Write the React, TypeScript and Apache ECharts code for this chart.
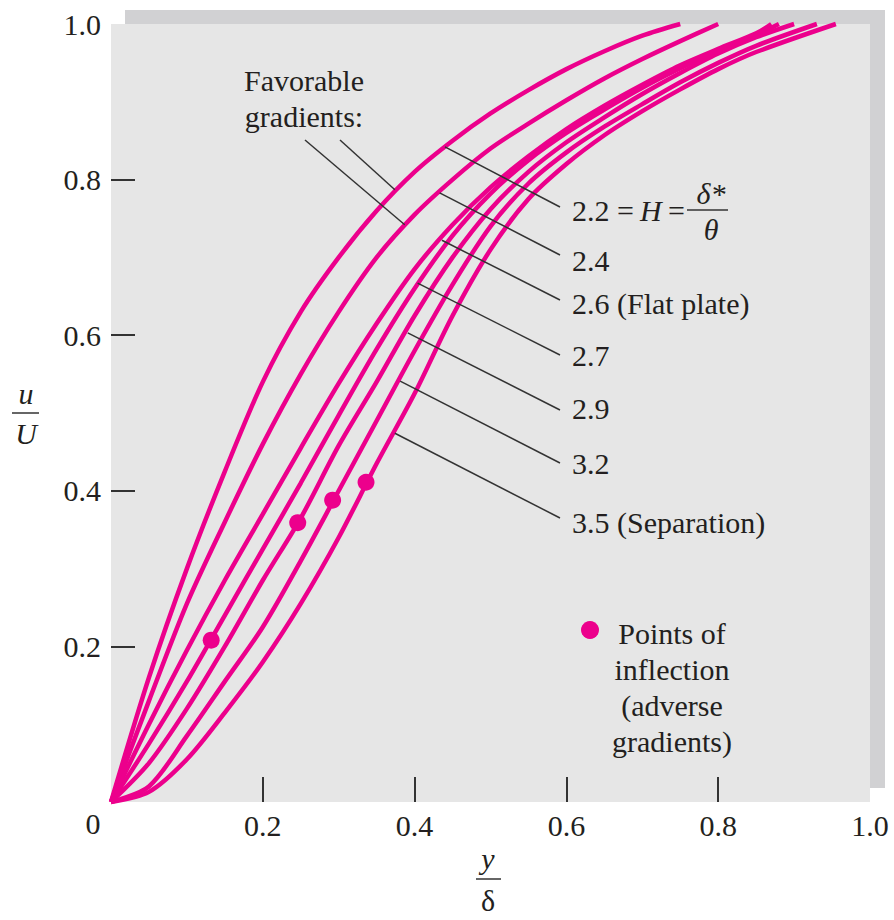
import React, { useEffect, useRef } from "react";
import * as echarts from "echarts";

// y/δ levels at which each profile's u/U value is read
const X_LEVELS = [0, 0.05, 0.1, 0.15, 0.2, 0.25, 0.3, 0.35, 0.4, 0.45, 0.5, 0.55, 0.6, 0.65, 0.7, 0.75, 0.8, 0.85];

// u/U values for each shape factor H; null once u/U = 1 is reached
const U_22 = [0, 0.16, 0.3, 0.425, 0.54, 0.63, 0.7, 0.76, 0.81, 0.85, 0.885, 0.915, 0.942, 0.965, 0.985, 1.0, null, null];
const U_24 = [0, 0.13, 0.255, 0.36, 0.46, 0.55, 0.63, 0.7, 0.755, 0.8, 0.84, 0.872, 0.902, 0.93, 0.955, 0.978, 1.0, null];
const U_26 = [0, 0.1, 0.195, 0.285, 0.37, 0.455, 0.538, 0.615, 0.685, 0.742, 0.79, 0.83, 0.865, 0.895, 0.922, 0.947, 0.968, 0.988];
const U_27 = [0, 0.075, 0.155, 0.24, 0.325, 0.41, 0.497, 0.582, 0.66, 0.728, 0.782, 0.825, 0.86, 0.89, 0.918, 0.943, 0.966, 0.986];
const U_29 = [0, 0.05, 0.12, 0.2, 0.285, 0.365, 0.458, 0.54, 0.625, 0.7, 0.762, 0.81, 0.848, 0.88, 0.91, 0.937, 0.962, 0.983];
const U_32 = [0, 0.02, 0.085, 0.155, 0.225, 0.31, 0.4, 0.49, 0.58, 0.665, 0.74, 0.795, 0.835, 0.868, 0.897, 0.925, 0.95, 0.972];
const U_35 = [0, 0.013, 0.055, 0.115, 0.18, 0.255, 0.34, 0.435, 0.525, 0.625, 0.71, 0.775, 0.82, 0.857, 0.888, 0.916, 0.942, 0.964];
// y/δ where each profile reaches u/U = 1
const END_X = [0.75, 0.8, 0.87, 0.88, 0.9, 0.93, 0.955];

const PROFILES = [U_22, U_24, U_26, U_27, U_29, U_32, U_35];

// Labels and where their leader lines touch the curves (y/δ, u/U)
const PROFILE_LABELS = ["2.2", "2.4", "2.6 (Flat plate)", "2.7", "2.9", "3.2", "3.5 (Separation)"];
const LEADER_ANCHORS = [
  [0.44, 0.842],
  [0.433, 0.783],
  [0.436, 0.722],
  [0.404, 0.667],
  [0.391, 0.603],
  [0.381, 0.541],
  [0.374, 0.474],
];
const FAVORABLE_ANCHORS = [
  [0.387, 0.742],
  [0.374, 0.787],
];

// Points of inflection (adverse gradients): H = 2.7, 2.9, 3.2, 3.5
const INFLECTION_X = [0.132, 0.246, 0.292, 0.336];
const INFLECTION_U = [0.208, 0.359, 0.388, 0.411];

const X_TICKS = [0.2, 0.4, 0.6, 0.8];
const X_LABELS = [0.2, 0.4, 0.6, 0.8, 1.0];
const Y_TICKS = [0.2, 0.4, 0.6, 0.8];
const Y_LABELS = [0.2, 0.4, 0.6, 0.8, 1.0];

const PINK = "#ec008c";
const TEXT = "#231f20";
const FONT = '"Liberation Serif", "Times New Roman", serif';
const FS = 30;

const GRID = { left: 111, top: 24, width: 759, height: 778 };

export default function App() {
  const ref = useRef<HTMLDivElement>(null);

  useEffect(() => {
    if (!ref.current) return;
    const chart = echarts.init(ref.current, null, { renderer: "svg" });

    const lineSeries = PROFILES.map((us, k) => {
      const pts: number[][] = [];
      X_LEVELS.forEach((x, i) => {
        if (us[i] !== null) pts.push([x, us[i] as number]);
      });
      const last = pts[pts.length - 1];
      if (END_X[k] > last[0]) pts.push([END_X[k], 1.0]);
      return {
        type: "line",
        name: "H=" + PROFILE_LABELS[k],
        data: pts,
        showSymbol: false,
        smooth: 0.3,
        clip: false,
        lineStyle: { color: PINK, width: 4.5 },
        z: 2,
      };
    });

    const option: any = {
      animation: false,
      grid: { ...GRID, show: false },
      xAxis: {
        type: "value",
        min: 0,
        max: 1,
        interval: 0.2,
        axisLine: { show: false },
        splitLine: { show: false },
        axisTick: {
          show: true,
          inside: true,
          length: 25,
          customValues: X_TICKS,
          lineStyle: { color: "#333", width: 2 },
        },
        axisLabel: {
          customValues: X_LABELS,
          formatter: (v: number) => v.toFixed(1),
          fontFamily: FONT,
          fontSize: FS,
          color: TEXT,
          margin: 8,
        },
      },
      yAxis: {
        type: "value",
        min: 0,
        max: 1,
        interval: 0.2,
        axisLine: { show: false },
        splitLine: { show: false },
        axisTick: {
          show: true,
          inside: true,
          length: 24,
          customValues: Y_TICKS,
          lineStyle: { color: "#333", width: 2 },
        },
        axisLabel: {
          customValues: Y_LABELS,
          formatter: (v: number) => v.toFixed(1),
          fontFamily: FONT,
          fontSize: FS,
          color: TEXT,
          margin: 10,
        },
      },
      series: [
        ...lineSeries,
        {
          type: "scatter",
          name: "Points of inflection",
          data: INFLECTION_X.map((x, i) => [x, INFLECTION_U[i]]),
          symbol: "circle",
          symbolSize: 17,
          itemStyle: { color: PINK, opacity: 1 },
          z: 3,
        },
      ],
    };
    chart.setOption(option);

    const px = (p: number[]) => chart.convertToPixel({ gridIndex: 0 }, p) as number[];

    const txt = (text: string, x: number, y: number, extra: any = {}) => ({
      type: "text",
      x,
      y,
      z: 10,
      style: {
        text,
        fontFamily: FONT,
        fontSize: FS,
        fill: TEXT,
        align: "left",
        verticalAlign: "middle",
        ...extra,
      },
    });
    const line = (x1: number, y1: number, x2: number, y2: number, w = 1.5) => ({
      type: "line",
      z: 10,
      shape: { x1, y1, x2, y2 },
      style: { stroke: "#333", lineWidth: w },
    });

    const labelY = [210, 260, 303, 355, 408, 463, 522];
    const leaderEndY = [207, 255, 300, 355, 410, 463, 518];
    const graphics: any[] = [
      {
        type: "rect",
        z: -20,
        shape: { x: GRID.left + 14, y: GRID.top - 14, width: GRID.width + 1, height: GRID.height },
        style: { fill: "#d1d1d3" },
      },
      {
        type: "rect",
        z: -10,
        shape: { x: GRID.left, y: GRID.top, width: GRID.width, height: GRID.height },
        style: { fill: "#e6e6e6" },
      },
      txt("0", 93, 823, { align: "center" }),
    ];

    LEADER_ANCHORS.forEach((a, k) => {
      const p = px(a);
      graphics.push(line(p[0], p[1], 560, leaderEndY[k]));
      if (k === 0) {
        graphics.push(txt("2.2 =", 572, labelY[k]));
        graphics.push(txt("H", 640, labelY[k], { fontStyle: "italic" }));
        graphics.push(txt("=", 668, labelY[k]));
        graphics.push(line(687, 210, 728, 210, 1.5));
        graphics.push(txt("δ*", 711, 193, { fontStyle: "italic", align: "center" }));
        graphics.push(txt("θ", 711, 229, { fontStyle: "italic", align: "center" }));
      } else {
        graphics.push(txt(PROFILE_LABELS[k], 572, labelY[k]));
      }
    });

    const favStarts = [
      [305, 140],
      [340, 140],
    ];
    FAVORABLE_ANCHORS.forEach((a, k) => {
      const p = px(a);
      graphics.push(line(favStarts[k][0], favStarts[k][1], p[0], p[1]));
    });
    graphics.push(txt("Favorable", 304, 80, { align: "center" }));
    graphics.push(txt("gradients:", 304, 116, { align: "center" }));

    // legend for inflection points
    graphics.push({ type: "circle", z: 10, shape: { cx: 590, cy: 630, r: 9 }, style: { fill: PINK } });
    ["Points of", "inflection", "(adverse", "gradients)"].forEach((s, i) => {
      graphics.push(txt(s, 672, 633 + i * 36, { align: "center" }));
    });

    // axis titles
    graphics.push(txt("u", 26, 393, { fontStyle: "italic", align: "center" }));
    graphics.push(line(12, 413, 39, 413, 1.5));
    graphics.push(txt("U", 26, 433, { fontStyle: "italic", align: "center" }));
    graphics.push(txt("y", 488, 858, { fontStyle: "italic", align: "center" }));
    graphics.push(line(476, 879, 501, 879, 1.5));
    graphics.push(txt("δ", 488, 900, { align: "center" }));

    chart.setOption({ graphic: graphics });

    return () => chart.dispose();
  }, []);

  return (
    <div
      ref={ref}
      style={{ position: "absolute", left: 0, top: 0, width: 894, height: 920 }}
    />
  );
}
